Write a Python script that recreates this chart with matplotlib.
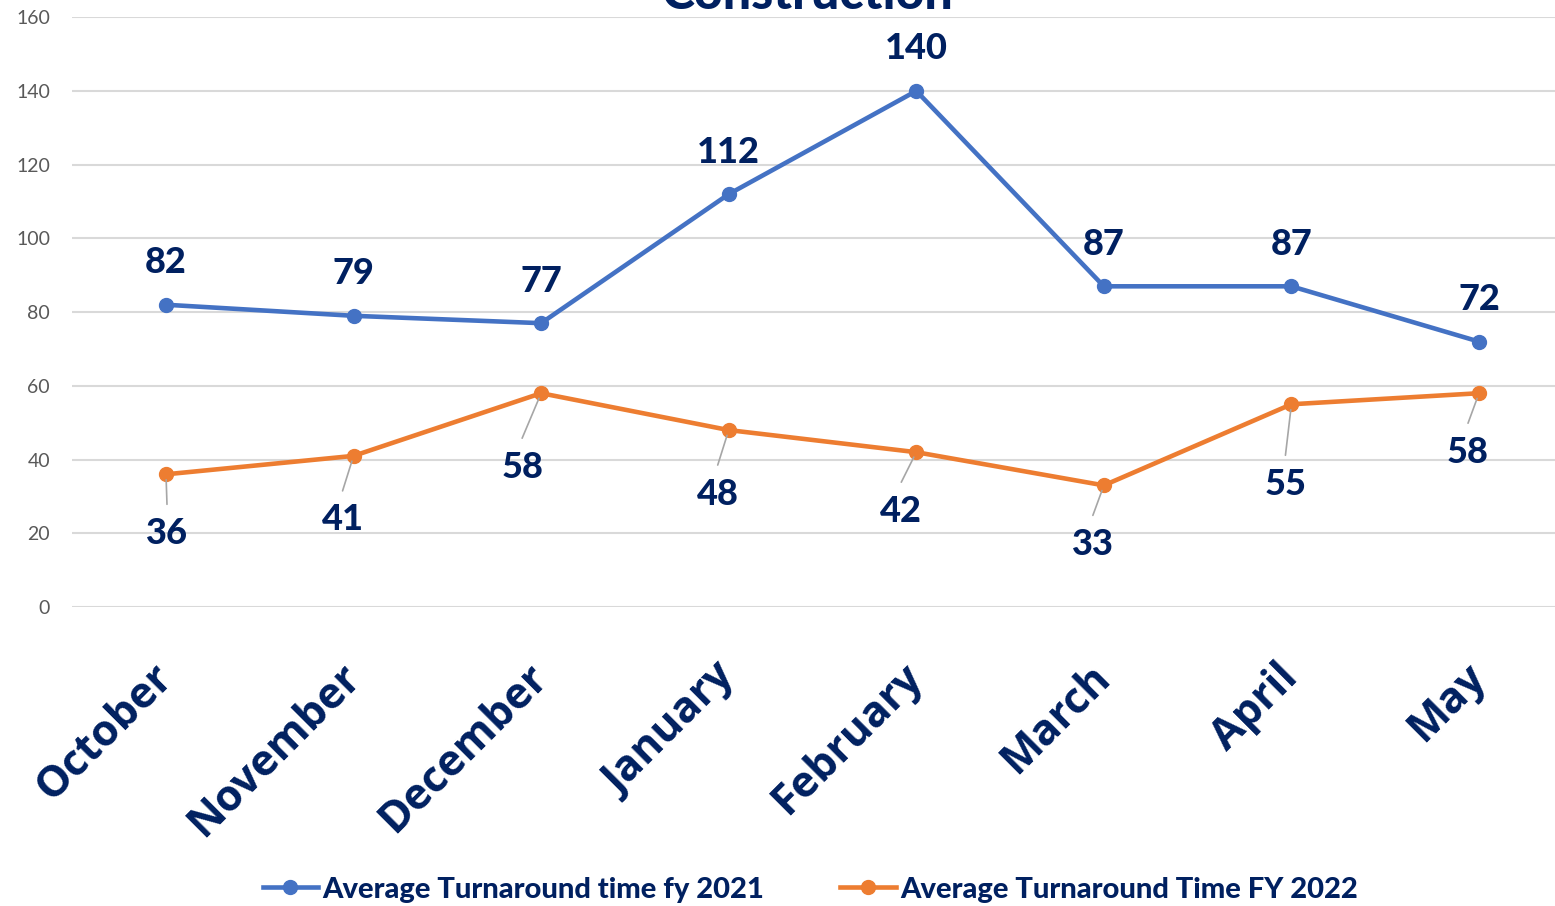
import matplotlib
matplotlib.use("Agg")
import matplotlib.pyplot as plt

# data
months = ["October", "November", "December", "January",
          "February", "March", "April", "May"]
fy2021 = [82, 79, 77, 112, 140, 87, 87, 72]
fy2022 = [36, 41, 58, 48, 42, 33, 55, 58]
yticks = [0, 20, 40, 60, 80, 100, 120, 140, 160]

# label offsets of the FY2022 labels (pixels, relative to point)
off22 = [(1, -59), (-11, -64), (-19, -74), (-11, -64),
         (-15, -59), (-11, -59), (-6, -80), (-11, -59)]

NAVY = "#002060"
BLUE = "#4472C4"
ORANGE = "#ED7D31"

plt.rcParams["font.family"] = ["Lato", "DejaVu Sans"]

fig = plt.figure(figsize=(15.55, 9.06), dpi=100)
ax = fig.add_axes([72.2 / 1555, 0.330, 1500.6 / 1555, 0.651])

x = list(range(len(months)))
l1, = ax.plot(x, fy2021, color=BLUE, lw=3.3, marker="o", ms=10,
              label="Average Turnaround time fy 2021", zorder=3)
l2, = ax.plot(x, fy2022, color=ORANGE, lw=3.3, marker="o", ms=10,
              label="Average Turnaround Time FY 2022", zorder=3)

for xi, v in zip(x, fy2021):
    ax.annotate(str(v), (xi, v), xytext=(0, 42), textcoords="offset pixels",
                ha="center", va="center", fontsize=26, fontweight="black",
                color=NAVY)

for xi, v, (dx, dy) in zip(x, fy2022, off22):
    ax.annotate(str(v), (xi, v), xytext=(dx, dy), textcoords="offset pixels",
                ha="center", va="center", fontsize=26, fontweight="black",
                color=NAVY)
    ax.annotate("", (xi, v), xytext=(dx, dy + 29), textcoords="offset pixels",
                arrowprops=dict(arrowstyle="-", color="#A6A6A6", lw=1.2,
                                shrinkA=0, shrinkB=4))

ax.set_xlim(-0.5, len(months) - 0.5)
ax.set_ylim(0, 160)
ax.set_yticks(yticks)
ax.set_xticks(x)
ax.set_xticklabels(months, rotation=45, ha="right", va="center",
                   rotation_mode="anchor", fontsize=31, fontweight="bold",
                   color=NAVY, family=["Open Sans", "DejaVu Sans"])
ax.tick_params(axis="x", length=0, pad=46)
ax.tick_params(axis="y", length=0, pad=16, labelsize=14, labelcolor="#595959")
ax.grid(axis="y", color="#D9D9D9", lw=1.5)
ax.set_axisbelow(True)
for s in ax.spines.values():
    s.set_visible(False)

fig.text(0.519, 0.990, "Construction", ha="center", va="baseline",
         fontsize=36, fontweight="black", color=NAVY)

leg = fig.legend(handles=[l1, l2], loc="center", bbox_to_anchor=(0.521, 0.018),
                 ncol=2, frameon=False, handlelength=1.9,
                 handletextpad=0.15, columnspacing=2.6,
                 prop=dict(weight="black", size=21))
for t in leg.get_texts():
    t.set_color(NAVY)

fig.savefig("out.png", dpi=100)
